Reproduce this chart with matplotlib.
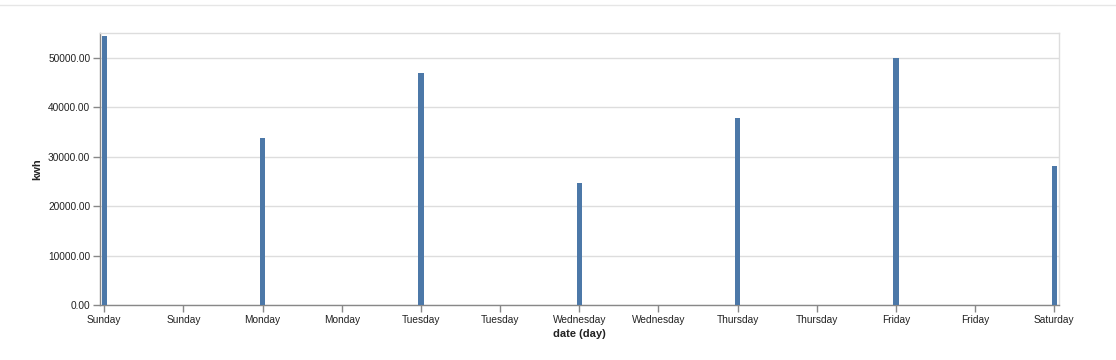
import matplotlib
matplotlib.use("Agg")
import matplotlib.pyplot as plt
from matplotlib.lines import Line2D
import numpy as np

# kwh totals per weekday
days = ["Sunday", "Monday", "Tuesday", "Wednesday", "Thursday", "Friday", "Saturday"]
kwh = [54400, 33800, 46900, 24700, 37850, 49900, 28100]

# half-day tick labels as drawn by the original axis
tick_labels = ["Sunday", "Sunday", "Monday", "Monday", "Tuesday", "Tuesday",
               "Wednesday", "Wednesday", "Thursday", "Thursday", "Friday", "Friday",
               "Saturday"]

plt.rcParams["font.family"] = ["Liberation Sans", "DejaVu Sans"]

fig = plt.figure(figsize=(11.16, 3.6), dpi=100)
W, H = 1116, 360
ax = fig.add_axes([100 / W, 1 - 305 / H, (1059 - 100) / W, (305 - 33) / H])

x = np.arange(len(days))
ax.bar(x, kwh, width=0.034, color="#4c78a8", zorder=3)

ax.set_xlim(-0.027, 6.03)
ax.set_ylim(0, 55000)

ax.set_yticks(np.arange(0, 55000, 10000))
ax.set_yticklabels(["%.2f" % v for v in np.arange(0, 55000, 10000)])
ax.set_xticks(np.arange(0, 6.01, 0.5))
ax.set_xticklabels(tick_labels)

ax.grid(axis="y", color="#dddddd", linewidth=1, zorder=0)
ax.tick_params(axis="both", labelsize=7.3, colors="#888888", labelcolor="#222222",
               length=5, width=1, pad=2)

for side in ["top", "right"]:
    ax.spines[side].set_color("#dddddd")
    ax.spines[side].set_linewidth(1)
for side in ["left", "bottom"]:
    ax.spines[side].set_color("#888888")
    ax.spines[side].set_linewidth(1)

ax.set_xlabel("date (day)", fontsize=8, fontweight="bold", color="#222222", labelpad=3)
ax.set_ylabel("kwh", fontsize=8, fontweight="bold", color="#222222", labelpad=4)

# thin separator line at the top of the card
fig.add_artist(Line2D([0, 1], [1 - 4.5 / H, 1 - 4.5 / H], transform=fig.transFigure,
                      color="#e6e6e6", linewidth=1))

fig.savefig("out.png", dpi=100)
